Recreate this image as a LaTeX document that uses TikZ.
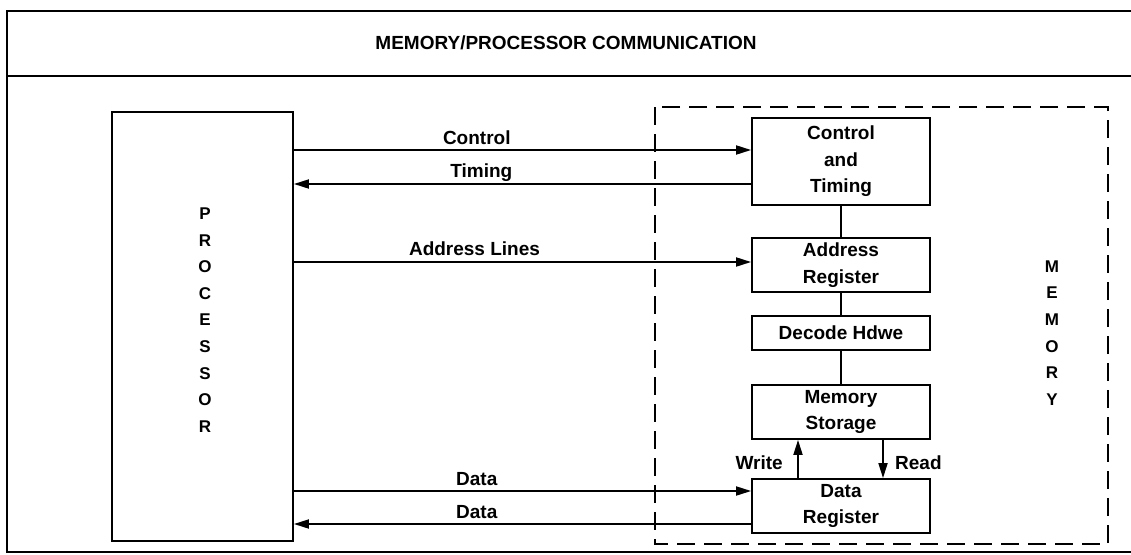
\documentclass[tikz,border=0pt]{standalone}
\usepackage{fontspec}
\setmainfont{Liberation Sans}
\usetikzlibrary{arrows.meta}

\tikzset{
  frame/.style={line width=2.6pt},
  box/.style={draw, line width=1.8pt, align=center, inner sep=0pt,
              font=\bfseries\fontsize{19}{26.5}\selectfont},
  arr/.style={line width=1.8pt, -{Triangle[length=15pt,width=9pt]}},
  line/.style={line width=1.8pt},
  lbl/.style={font=\bfseries\fontsize{19}{22}\selectfont, inner sep=0pt, anchor=base},
  vert/.style={align=center, inner sep=0pt, font=\bfseries\fontsize{17}{26.6}\selectfont},
  membound/.style={line width=2pt, dash pattern=on 18pt off 9pt}
}

\begin{document}
\begin{tikzpicture}[x=1pt, y=-1pt]
\useasboundingbox (0,0) rectangle (1131,554);

% outer frame with title strip (open on the right)
\draw[frame] (1135,11) -- (7,11) -- (7,552) -- (1135,552);
\draw[frame] (7,76) -- (1135,76);
\node[font=\bfseries\fontsize{19}{22}\selectfont] (title) at (566,43) {MEMORY/PROCESSOR COMMUNICATION};

% processor
\node[draw, line width=1.8pt, minimum width=181pt, minimum height=429pt, inner sep=0pt] (proc) at (202.5,326.5) {};
\node[vert] (proclbl) at (205,320) {P\\R\\O\\C\\E\\S\\S\\O\\R};

% memory boundary
\draw[membound] (655,107) rectangle (1108,544);
\node[vert] (memlbl) at (1052,333) {M\\E\\M\\O\\R\\Y};

% memory blocks
\node[box, minimum width=178pt, minimum height=87pt] (ct) at (841,161.5) {Control\\and\\Timing};
\node[box, minimum width=178pt, minimum height=54pt] (ar) at (841,265) {Address\\Register};
\node[box, minimum width=178pt, minimum height=34pt] (dh) at (841,333) {Decode Hdwe};
\node[box, minimum width=178pt, minimum height=54pt] (ms) at (841,412) {Memory\\Storage};
\node[box, minimum width=178pt, minimum height=54pt] (dr) at (841,506) {Data\\Register};

% internal links
\draw[line] (ct) -- (ar);
\draw[line] (ar) -- (dh);
\draw[line] (dh) -- (ms);

% read / write paths
\coordinate (xw) at (798,0);
\coordinate (xr) at (883,0);
\draw[arr] (dr.north -| xw) -- (ms.south -| xw);
\draw[arr] (ms.south -| xr) -- (dr.north -| xr);
\node[lbl, anchor=base east] (wlbl) at (783,469.5) {Write};
\node[lbl, anchor=base west] (rlbl) at (895,469.5) {Read};

% processor <-> memory buses
\coordinate (yc) at (0,150);
\coordinate (yt) at (0,184);
\coordinate (ya) at (0,262);
\coordinate (yd) at (0,491);
\coordinate (ye) at (0,524);
\draw[arr] (proc.east |- yc) -- node[lbl, pos=0.4, yshift=6pt] {Control} (ct.west |- yc);
\draw[arr] (ct.west |- yt) -- node[lbl, pos=0.59, yshift=7pt] {Timing} (proc.east |- yt);
\draw[arr] (proc.east |- ya) -- node[lbl, pos=0.395, yshift=7pt] {Address Lines} (ar.west |- ya);
\draw[arr] (proc.east |- yd) -- node[lbl, pos=0.4, yshift=6pt] {Data} (dr.west |- yd);
\draw[arr] (dr.west |- ye) -- node[lbl, pos=0.6, yshift=6pt] {Data} (proc.east |- ye);
\end{tikzpicture}
\end{document}
